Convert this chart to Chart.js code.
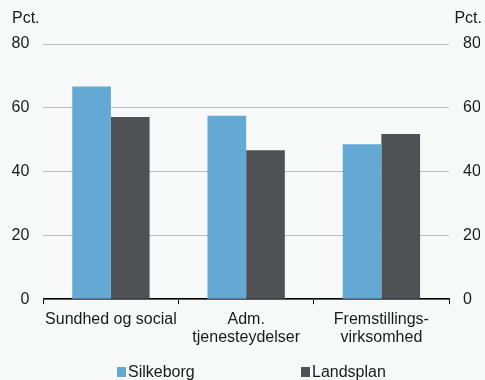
<!DOCTYPE html>
<html>
<head>
<meta charset="utf-8">
<script src="https://cdn.jsdelivr.net/npm/chart.js@4/dist/chart.umd.min.js"></script>
<style>
  html, body { margin: 0; padding: 0; background: #f7f9f9; }
  #wrap { width: 485px; height: 380px; position: relative; }
</style>
</head>
<body>
<div id="wrap"><canvas id="c" width="485" height="380"></canvas></div>
<script>
const categories = [["Sundhed og social"], ["Adm.", "tjenesteydelser"], ["Fremstillings-", "virksomhed"]];
const silkeborg = [66.7, 57.5, 48.6];
const landsplan = [57.1, 46.7, 51.8];
const seriesNames = ["Silkeborg", "Landsplan"];
const yTicks = [0, 20, 40, 60, 80];
const unitLabel = "Pct.";

const FONT = "'Liberation Sans', Arial, sans-serif";
const FS = 16;
const BLUE = "#63a9d4";
const DARK = "#505155";

const bgPlugin = {
  id: 'bg',
  beforeDraw(chart) {
    const ctx = chart.ctx;
    ctx.save();
    ctx.fillStyle = '#f7f9f9';
    ctx.fillRect(0, 0, chart.width, chart.height);
    ctx.restore();
  }
};

const extrasPlugin = {
  id: 'extras',
  afterDraw(chart) {
    const ctx = chart.ctx;
    ctx.save();
    ctx.font = FS + "px " + FONT;
    ctx.fillStyle = '#1a1a1a';
    ctx.textBaseline = 'alphabetic';
    ctx.textAlign = 'left';
    ctx.fillText(unitLabel, 12, 23);
    ctx.textAlign = 'right';
    ctx.fillText(unitLabel, 482, 23);
    const items = [
      { text: seriesNames[0], color: BLUE, x: 117 },
      { text: seriesNames[1], color: DARK, x: 301 }
    ];
    ctx.textAlign = 'left';
    ctx.textBaseline = 'middle';
    items.forEach(it => {
      ctx.fillStyle = it.color;
      ctx.fillRect(it.x, 367, 9, 10);
      ctx.fillStyle = '#1a1a1a';
      ctx.fillText(it.text, it.x + 11, 372.5);
    });
    ctx.restore();
  }
};

new Chart(document.getElementById('c'), {
  type: 'bar',
  data: {
    labels: categories,
    datasets: [
      { label: seriesNames[0], data: silkeborg, backgroundColor: BLUE, yAxisID: 'y' },
      { label: seriesNames[1], data: landsplan, backgroundColor: DARK, yAxisID: 'y' }
    ]
  },
  options: {
    responsive: false,
    animation: false,
    devicePixelRatio: 1,
    layout: { padding: { top: 44, left: 12, right: 5, bottom: 27 } },
    datasets: { bar: { categoryPercentage: 0.572, barPercentage: 1.0 } },
    plugins: {
      legend: { display: false },
      tooltip: { enabled: false }
    },
    scales: {
      x: {
        grid: { display: true, drawOnChartArea: false, drawTicks: true, tickLength: 5, color: '#000', offset: true },
        border: { display: true, color: '#000', width: 1.5 },
        ticks: { color: '#1a1a1a', font: { family: FONT, size: FS, lineHeight: 1.15 }, padding: 6, maxRotation: 0, autoSkip: false },
        afterFit(s) { s.paddingLeft = 0; s.paddingRight = 0; }
      },
      y: {
        position: 'left',
        min: 0, max: 80,
        afterBuildTicks(s) { s.ticks = yTicks.map(v => ({ value: v })); },
        afterFit(s) { s.width = 31.3; },
        grid: { color: '#bdbdbd', lineWidth: 1, drawTicks: false },
        border: { display: false },
        ticks: { color: '#1a1a1a', font: { family: FONT, size: FS }, padding: 14 }
      },
      y2: {
        position: 'right',
        min: 0, max: 80,
        afterBuildTicks(s) { s.ticks = yTicks.map(v => ({ value: v })); },
        afterFit(s) { s.width = 31; },
        grid: { display: false, drawTicks: false },
        border: { display: false },
        ticks: { color: '#1a1a1a', font: { family: FONT, size: FS }, padding: 14 }
      }
    }
  },
  plugins: [bgPlugin, extrasPlugin]
});
</script>
</body>
</html>
